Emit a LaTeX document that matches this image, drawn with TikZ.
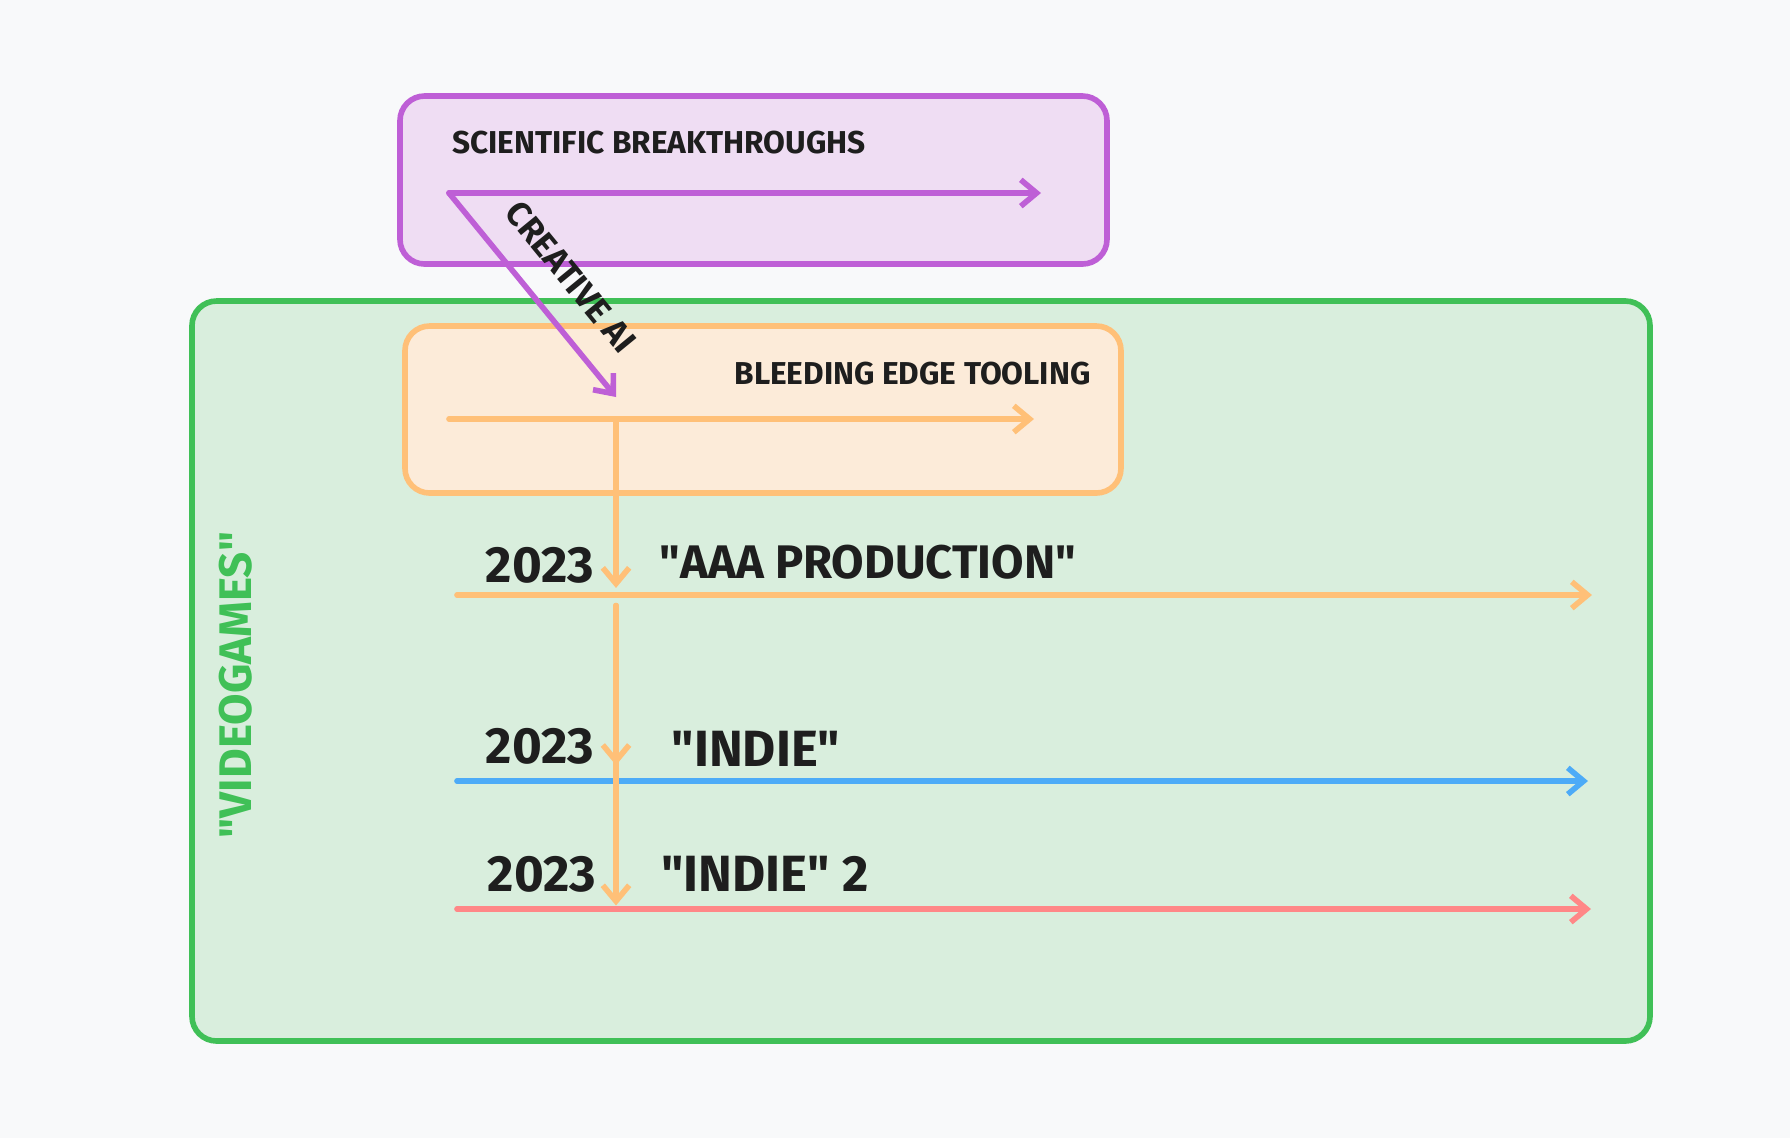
\documentclass[tikz,border=0pt]{standalone}
\usepackage{fontspec}
\setmainfont{Fira Sans}
\usetikzlibrary{arrows.meta}
\definecolor{bgc}{HTML}{F8F9FA}
\definecolor{ink}{HTML}{1E1E1E}
\definecolor{gamesgreen}{HTML}{40C057}
\definecolor{gamesfill}{HTML}{D9EEDD}
\definecolor{scipurple}{HTML}{BE5FD6}
\definecolor{scifill}{HTML}{EFDDF3}
\definecolor{toolorange}{HTML}{FFC078}
\definecolor{toolfill}{HTML}{FCEBD9}
\definecolor{indieblue}{HTML}{4DABF7}
\definecolor{indiered}{HTML}{FF8787}
\newcommand{\qt}{\textquotedbl}

\begin{document}
\begin{tikzpicture}[x=0.1mm,y=-0.1mm,>={Straight Barb[length=4.5pt,width=7.5pt]},line cap=round,line join=round,
    area/.style={draw=#1,line width=1.6pt,rounded corners=7pt},
    flow/.style={->,draw=#1,line width=1.6pt},
    small/.style={font=\bfseries\fontsize{9}{10}\selectfont,text=ink},
    big/.style={font=\bfseries\fontsize{14.5}{16}\selectfont,text=ink}]

    \fill[bgc] (0,0) rectangle (1790,1138);
    \useasboundingbox (0,0) rectangle (1790,1138);

    % boxes
    \filldraw[area=gamesgreen,fill=gamesfill] (192,301) rectangle (1650,1041);
    \filldraw[area=scipurple,fill=scifill] (400,96) rectangle (1107,264);
    \filldraw[area=toolorange,fill=toolfill] (405,326) rectangle (1121,493);

    \node[small,anchor=west] (scilabel) at (440,143) {SCIENTIFIC BREAKTHROUGHS};
    \node[small,anchor=east] (toollabel) at (1103,374) {BLEEDING EDGE TOOLING};
    \node[font=\bfseries\fontsize{13}{15}\selectfont,text=gamesgreen,rotate=90] (games) at (236,685) {\qt VIDEOGAMES\qt};

    \coordinate (sciL) at (449,193);
    \coordinate (sciR) at (1041,193);
    \coordinate (toolL) at (449,419);
    \coordinate (toolR) at (1034,419);
    \coordinate (toolJ) at (616,419);
    \coordinate (aiEnd) at (616,397);

    \path (sciL) edge[flow=scipurple] (sciR)
                 edge[flow=scipurple] node[small,font=\bfseries\fontsize{9.8}{11}\selectfont,sloped,pos=0.54,above=4pt] {CREATIVE AI} (aiEnd);
    \path (toolL) edge[flow=toolorange] (toolR);

    % timelines
    \coordinate (aaaL) at (457,595);
    \coordinate (aaaR) at (1592,595);
    \coordinate (indieL) at (457,781);
    \coordinate (indieR) at (1588,781);
    \coordinate (indietwoL) at (457,909);
    \coordinate (indietwoR) at (1591,909);
    \coordinate (aaaJ) at (616,595);
    \coordinate (indieJ) at (616,781);
    \coordinate (indietwoJ) at (616,909);

    \path (aaaL) edge[flow=toolorange] (aaaR)
          (indieL) edge[flow=indieblue] (indieR)
          (indietwoL) edge[flow=indiered] (indietwoR);

    \path (toolJ) edge[flow=toolorange,shorten >=2pt] (aaaJ);
    \path ([yshift=-3pt]aaaJ) edge[flow=toolorange,shorten >=4.5pt] (indieJ)
          ([yshift=-3pt]aaaJ) edge[flow=toolorange,shorten >=1pt] (indietwoJ);

    \node[big] (yaaa) at (540,565) {2023};
    \node[big] (yindie) at (540,746) {2023};
    \node[big] (yindietwo) at (542,874) {2023};
    \node[big,font=\bfseries\fontsize{13.4}{16}\selectfont] (aaa) at (868,562) {\qt AAA PRODUCTION\qt};
    \node[big] (indie) at (756,749) {\qt INDIE\qt};
    \node[big] (indietwo) at (765,874) {\qt INDIE\qt{} 2};
\end{tikzpicture}
\end{document}
